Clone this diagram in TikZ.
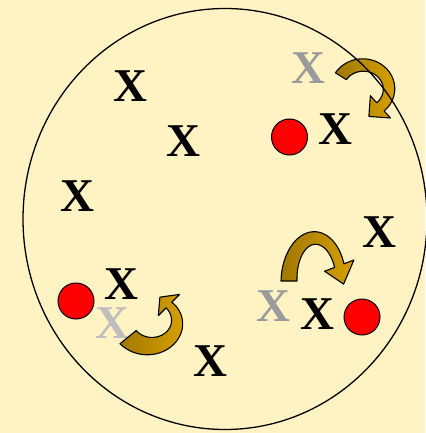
\documentclass[tikz,border=0pt]{standalone}
\usepackage{fontspec}
\setmainfont{Liberation Serif}
\definecolor{bgc}{RGB}{255,243,196}
\definecolor{arrdark}{RGB}{160,120,0}
\definecolor{arrlight}{RGB}{214,160,0}
\definecolor{gmid}{RGB}{155,155,155}
\definecolor{glight}{RGB}{190,190,190}
\definecolor{dotred}{RGB}{255,0,0}
% #1 cx #2 cy #3 rx #4 ry #5 start angle #6 end angle #7 tail width #8 end width #9 head half width; \bhl head length
\newcommand{\bentarrow}[9]{%
  \pgfmathsetmacro\bmx{#1+(#3)*cos(#6)}%
  \pgfmathsetmacro\bmy{#2+(#4)*sin(#6)}%
  \pgfmathsetmacro\bsg{sign((#6)-(#5))}%
  \pgfmathsetmacro\btx{-\bsg*(#3)*sin(#6)}%
  \pgfmathsetmacro\bty{\bsg*(#4)*cos(#6)}%
  \pgfmathsetmacro\btn{sqrt(\btx*\btx+\bty*\bty)}%
  \pgfmathsetmacro\bpx{\bmx+\bhl*\btx/\btn}%
  \pgfmathsetmacro\bpy{\bmy+\bhl*\bty/\btn}%
  \path[arrowbody]
    plot[domain=#5:#6,samples=60]
      ({#1+(#3+0.5*(#7+(#8-#7)*(\x-(#5))/((#6)-(#5))))*cos(\x)},
       {#2+(#4+0.5*(#7+(#8-#7)*(\x-(#5))/((#6)-(#5))))*sin(\x)})
    -- ({#1+(#3+#9)*cos(#6)},{#2+(#4+#9)*sin(#6)})
    -- (\bpx,\bpy)
    -- ({#1+(#3-#9)*cos(#6)},{#2+(#4-#9)*sin(#6)})
    -- plot[domain=#6:#5,samples=60]
      ({#1+(#3-0.5*(#7+(#8-#7)*(\x-(#5))/((#6)-(#5))))*cos(\x)},
       {#2+(#4-0.5*(#7+(#8-#7)*(\x-(#5))/((#6)-(#5))))*sin(\x)})
    -- cycle;
}
\begin{document}
\begin{tikzpicture}[x=1pt,y=-1pt,
  xmark/.style={font=\fontsize{47}{47}\selectfont\bfseries, inner sep=0pt},
  reddot/.style={circle, draw=black, line width=1pt, fill=dotred, minimum size=36pt, inner sep=0pt},
  arrowbody/.style={draw=black, line width=1.1pt, line join=round, left color=arrdark, right color=arrlight}]
\useasboundingbox (0,0) rectangle (425,433);
\fill[bgc] (0,0) rectangle (425,433);
% X marks
\node[xmark] (x1) at (130,86) {X};
\node[xmark] (x2) at (183,141) {X};
\node[xmark] (x3) at (77,196) {X};
\node[xmark, text=gmid] (x4) at (308,68) {X};
\node[xmark] (x5) at (335,129) {X};
\node[xmark] (x6) at (379,232) {X};
\node[xmark] (x7) at (121,284) {X};
\node[xmark, text=glight] (x8) at (112,323) {X};
\node[xmark] (x9) at (210,361) {X};
\node[xmark, text=gmid] (x10) at (273,306) {X};
\node[xmark] (x11) at (317,314) {X};
% red dots
\node[reddot] (d1) at (289.5,137) {};
\node[reddot] (d2) at (76,301) {};
\node[reddot] (d3) at (362,317) {};
% curved arrows
\def\bhl{15}
\bentarrow{363}{89}{26}{24}{-148}{48}{13}{11}{15}
\def\bhl{12}
\bentarrow{149.5}{322}{27.5}{24}{141}{-45}{21}{8}{15}
\def\bhl{19}
\bentarrow{315}{281}{26}{43}{180}{339}{16}{10}{15.7}
% big circle
\draw[line width=1.3pt] (225,219) ellipse [x radius=202pt, y radius=210.5pt];
\end{tikzpicture}
\end{document}
